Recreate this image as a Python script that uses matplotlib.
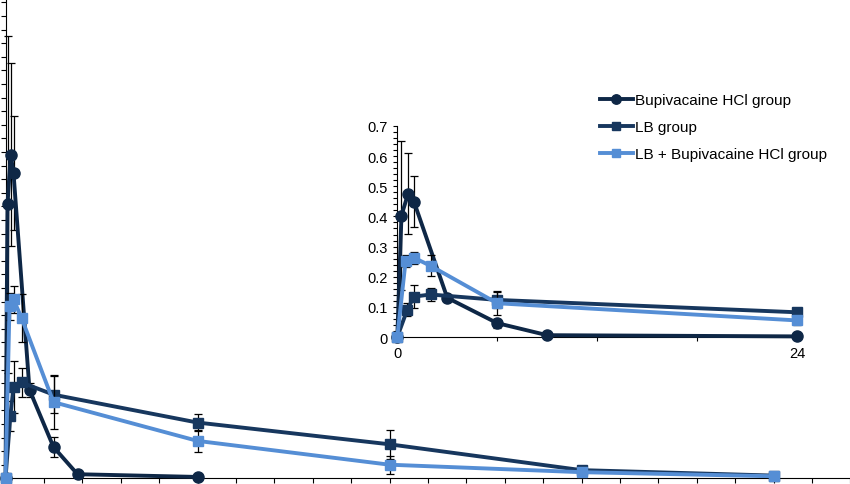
import numpy as np
import matplotlib
matplotlib.use("Agg")
import matplotlib.pyplot as plt
from matplotlib.ticker import FixedLocator, FuncFormatter

plt.rcParams['font.family'] = ['Liberation Sans', 'DejaVu Sans']

# ---- data (hours, concentration) ----
series_names = ["Bupivacaine HCl group", "LB group", "LB + Bupivacaine HCl group"]

time_bupi = [0, 0.25, 0.65, 1, 3, 6, 9, 24]
conc_bupi = [0, 0.403, 0.476, 0.449, 0.130, 0.046, 0.006, 0.002]
sd_bupi = [0, 0.248, 0.135, 0.084, 0.010, 0.015, 0.003, 0.001]

time_lb = [0, 0.6, 1, 2, 6, 24, 48, 72, 96]
conc_lb = [0, 0.091, 0.134, 0.141, 0.123, 0.082, 0.050, 0.012, 0.004]
sd_lb = [0, 0.022, 0.038, 0.021, 0.027, 0.013, 0.021, 0.006, 0.002]

time_lbb = [0, 0.5, 1, 2, 6, 24, 48, 72, 96]
conc_lbb = [0, 0.253, 0.263, 0.236, 0.112, 0.055, 0.020, 0.009, 0.003]
sd_lbb = [0, 0.020, 0.020, 0.035, 0.040, 0.016, 0.013, 0.005, 0.002]

main_xticks_step = 4.8
inset_y_labels = [0, 0.1, 0.2, 0.3, 0.4, 0.5, 0.6, 0.7]
inset_x_labels = [0, 24]

colors = ['#0e2746', '#17375e', '#558ed5']
markers = ['o', 's', 's']
msizes = [8, 7.5, 7.5]

series = [(time_bupi, conc_bupi, sd_bupi),
          (time_lb, conc_lb, sd_lb),
          (time_lbb, conc_lbb, sd_lbb)]

W, H = 850, 485
fig = plt.figure(figsize=(W / 100, H / 100), dpi=100)


def draw(ax, tmax):
    handles = []
    for i, (t, c, s) in enumerate(series):
        t = np.array(t); c = np.array(c); s = np.array(s)
        m = t <= tmax
        ax.errorbar(t[m], c[m], yerr=s[m], fmt='none', ecolor='black',
                    elinewidth=0.9, capsize=2.8, capthick=0.9,
                    zorder=2 + i * 2, clip_on=False)
        h, = ax.plot(t[m], c[m], color=colors[i], lw=2.8, marker=markers[i],
                     markersize=msizes[i], markerfacecolor=colors[i],
                     markeredgecolor=colors[i], zorder=3 + i * 2,
                     clip_on=False, label=series_names[i])
        handles.append(h)
    for sp in ['top', 'right']:
        ax.spines[sp].set_visible(False)
    for sp in ['left', 'bottom']:
        ax.spines[sp].set_color('black')
        ax.spines[sp].set_linewidth(0.8)
    return handles


# ---- main axes (extends past the figure edges, cropped like the original) ----
px_per_h = 8.0
px_per_unit = 680.0
x0, y0 = 5.5, 479.3
main_xmax, main_ymax = 120, 0.8
ax = fig.add_axes([x0 / W, (H - y0) / H, main_xmax * px_per_h / W,
                   main_ymax * px_per_unit / H])
handles = draw(ax, 1000)
ax.set_xlim(0, main_xmax)
ax.set_ylim(0, main_ymax)
ax.set_xticks(np.arange(0, main_xmax + 0.01, main_xticks_step))
ax.set_yticks(np.arange(0, main_ymax + 0.001, 0.02))
ax.set_xticklabels([])
ax.set_yticklabels([])
ax.tick_params(direction='out', length=3.6, width=0.8, color='black')

# ---- inset ----
ix0, ix1 = 397.3, 797.0
iy0, iy1 = 338.0, 127.0
axi = fig.add_axes([ix0 / W, (H - iy0) / H, (ix1 - ix0) / W, (iy0 - iy1) / H])
draw(axi, 24)
axi.set_xlim(0, 24)
axi.set_ylim(0, 0.7)
axi.xaxis.set_major_locator(FixedLocator(inset_x_labels))
axi.xaxis.set_minor_locator(FixedLocator([6, 12, 18]))
axi.set_xticklabels([str(v) for v in inset_x_labels])
axi.yaxis.set_major_locator(FixedLocator(inset_y_labels))
axi.yaxis.set_minor_locator(FixedLocator(np.arange(0, 0.701, 0.02)))
axi.yaxis.set_major_formatter(FuncFormatter(lambda v, p: '0' if abs(v) < 1e-9 else f'{v:.1f}'))
axi.tick_params(which='both', direction='out', length=3.2, width=0.8,
                color='black', labelsize=10.5, pad=3.5)
axi.patch.set_alpha(0)

# ---- legend ----
fig.legend(handles=handles, labels=series_names, loc='upper left',
           bbox_to_anchor=(600 / W, (H - 94.5) / H), frameon=False,
           fontsize=11, handlelength=2.15, handletextpad=0.12,
           labelspacing=0.83, borderpad=0, borderaxespad=0, markerscale=0.85)

fig.savefig('out.png', dpi=100)
